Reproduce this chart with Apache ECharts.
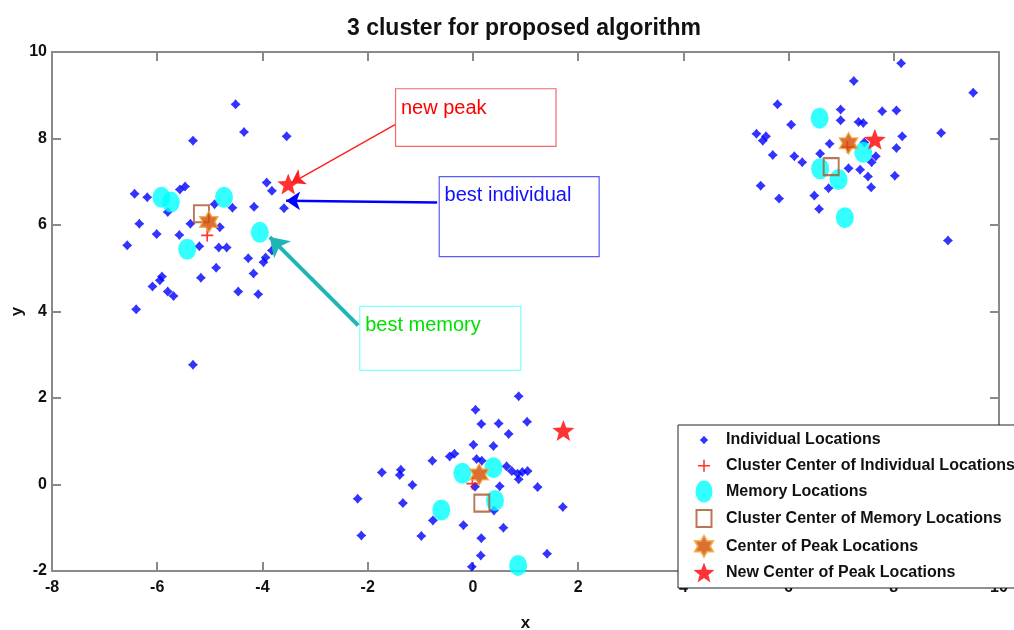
<!DOCTYPE html>
<html>
<head>
<meta charset="utf-8">
<script src="https://cdn.jsdelivr.net/npm/echarts@6/dist/echarts.min.js"></script>
<style>
  html, body { margin: 0; padding: 0; background: #fff; }
  #chart { width: 1014px; height: 630px; }
</style>
</head>
<body>
<div id="chart"></div>
<script>
// ---- data ----
const chartTitle = '3 cluster for proposed algorithm';
const xRange = [-8, 10];
const yRange = [-2, 10];
const tickStep = 2;

const seriesNames = [
  'Individual Locations',
  'Cluster Center of Individual Locations',
  'Memory Locations',
  'Cluster Center of Memory Locations',
  'Center of Peak Locations',
  'New Center of Peak Locations'
];

const individualPts = [
  // upper-left cluster
  [-4.51, 8.79], [-4.35, 8.15], [-5.32, 7.95], [-3.54, 8.05], [-6.43, 6.72], [-6.19, 6.64],
  [-5.57, 6.82], [-5.47, 6.89], [-3.92, 6.98], [-3.82, 6.79], [-5.80, 6.30], [-4.91, 6.48],
  [-4.57, 6.40], [-4.16, 6.42], [-3.59, 6.39], [-6.34, 6.03], [-5.37, 6.03], [-4.81, 5.95],
  [-6.01, 5.79], [-5.58, 5.77], [-6.57, 5.53], [-5.20, 5.51], [-4.83, 5.48], [-4.68, 5.48],
  [-3.82, 5.41], [-4.27, 5.23], [-3.94, 5.25], [-3.98, 5.14], [-4.88, 5.01], [-4.17, 4.88],
  [-5.91, 4.81], [-5.95, 4.72], [-6.09, 4.58], [-5.17, 4.78], [-5.80, 4.46], [-5.69, 4.36],
  [-4.46, 4.46], [-4.08, 4.40], [-6.40, 4.05], [-5.32, 2.77],
  // lower-middle cluster
  [0.87, 2.04], [0.05, 1.73], [0.16, 1.40], [0.49, 1.41], [1.03, 1.45], [0.68, 1.17],
  [0.01, 0.92], [0.39, 0.89], [-0.77, 0.55], [-0.44, 0.65], [-0.35, 0.71], [0.07, 0.59],
  [0.17, 0.55], [0.64, 0.42], [0.74, 0.31], [0.85, 0.25], [0.94, 0.29], [1.04, 0.31],
  [0.87, 0.12], [-1.73, 0.28], [-1.37, 0.34], [-1.39, 0.22], [-1.15, -0.01], [0.51, -0.04],
  [1.23, -0.06], [0.04, -0.05], [-2.19, -0.33], [-1.33, -0.43], [1.71, -0.52], [0.40, -0.60],
  [-0.76, -0.83], [-0.18, -0.94], [0.58, -1.00], [-2.12, -1.18], [-0.98, -1.19], [0.16, -1.24],
  [0.15, -1.64], [1.41, -1.60], [-0.02, -1.90],
  // upper-right cluster
  [8.14, 9.74], [7.24, 9.33], [9.51, 9.06], [5.79, 8.79], [6.99, 8.67], [7.78, 8.63],
  [8.05, 8.65], [6.05, 8.32], [6.99, 8.42], [7.33, 8.38], [7.42, 8.36], [5.39, 8.11],
  [5.57, 8.05], [5.51, 7.95], [6.78, 7.88], [7.44, 7.91], [8.16, 8.05], [8.90, 8.13],
  [8.05, 7.78], [5.70, 7.62], [6.11, 7.59], [6.26, 7.45], [6.60, 7.65], [7.66, 7.59],
  [7.58, 7.45], [7.14, 7.31], [7.36, 7.28], [7.51, 7.12], [8.02, 7.14], [7.57, 6.87],
  [6.76, 6.85], [5.47, 6.91], [5.82, 6.61], [6.49, 6.68], [6.58, 6.37], [9.03, 5.64]
];
const clusterCenters = [[-5.05, 5.76], [-0.01, 0.02], [7.12, 7.80]];
const memoryPts = [
  [-5.92, 6.64], [-5.74, 6.53], [-4.73, 6.64], [-5.43, 5.44], [-4.05, 5.83],
  [-0.20, 0.26], [0.39, 0.39], [0.42, -0.37], [-0.60, -0.59], [0.86, -1.87],
  [6.59, 8.47], [7.42, 7.68], [6.60, 7.30], [6.95, 7.05], [7.07, 6.17]
];
const memoryCenters = [[-5.16, 6.26], [0.17, -0.43], [6.81, 7.35]];
const peakCenters = [[-5.02, 6.07], [0.12, 0.23], [7.14, 7.89]];
const newPeaks = [[-3.51, 6.95], [1.72, 1.25], [7.64, 7.98]];

// annotation notes: label text, box corners and arrow (from -> to), in data units
const noteTexts = ['new peak', 'best individual', 'best memory'];
const noteBoxes = [
  [[-1.47, 9.15], [1.58, 7.82]],
  [[-0.64, 7.12], [2.40, 5.27]],
  [[-2.15, 4.12], [0.91, 2.64]]
];
const noteArrows = [
  [[-1.48, 8.32], [-3.45, 6.97]],
  [[-0.68, 6.52], [-3.55, 6.56]],
  [[-2.18, 3.68], [-3.86, 5.72]]
];

// ---- styles ----
const FONT = '"Liberation Sans", Arial, Helvetica, sans-serif';
const AXIS_COLOR = '#8a8a8a';
const TEXT_COLOR = '#111';

// marker shapes
const SYM_INDIV = 'path://M0,-10 L4.6,-4.6 L10,0 L4.6,4.6 L0,10 L-4.6,4.6 L-10,0 L-4.6,-4.6 Z';
const SYM_CROSS = 'path://M-0.8,-6 L0.8,-6 L0.8,-0.8 L6,-0.8 L6,0.8 L0.8,0.8 L0.8,6 L-0.8,6 L-0.8,0.8 L-6,0.8 L-6,-0.8 L-0.8,-0.8 Z';
const SYM_HEX = 'path://M100,0 L128.9,50 L186.6,50 L157.7,100 L186.6,150 L128.9,150 L100,200 L71.1,150 L13.4,150 L42.3,100 L13.4,50 L71.1,50 Z';
const SYM_STAR = 'path://M100,0 L124.7,66 L195.1,69.1 L139.9,113 L158.8,180.9 L100,142 L41.2,180.9 L60.1,113 L4.9,69.1 L75.3,66 Z';

// legend icons share one 24x22 frame so each glyph keeps its own size
const FRAME = 'M0,0 M24,22 ';
const LEG_ICONS = [
  'path://' + FRAME + 'M12,6.8 L14,9 L16.2,11 L14,13 L12,15.2 L10,13 L7.8,11 L10,9 Z',
  'path://' + FRAME + 'M11.2,5 L12.8,5 L12.8,10.2 L18,10.2 L18,11.8 L12.8,11.8 L12.8,17 L11.2,17 L11.2,11.8 L6,11.8 L6,10.2 L11.2,10.2 Z',
  'path://' + FRAME + 'M3.5,11 A8.5,11 0 1,0 20.5,11 A8.5,11 0 1,0 3.5,11 Z',
  'path://' + FRAME + 'M4.5,2.5 L19.5,2.5 L19.5,19.5 L4.5,19.5 Z',
  'path://' + FRAME + 'M12,0.5 L15.03,5.75 L21.09,5.75 L18.06,11 L21.09,16.25 L15.03,16.25 L12,21.5 L8.97,16.25 L2.91,16.25 L5.94,11 L2.91,5.75 L8.97,5.75 Z',
  'path://' + FRAME + 'M12,0.5 L14.72,7.76 L22.46,8.1 L16.39,12.93 L18.47,20.4 L12,16.12 L5.53,20.4 L7.61,12.93 L1.54,8.1 L9.28,7.76 Z'
];

const noteStyles = [
  { line: '#ff2020', width: 1.5, head: 13, box: '#f06a6a', text: '#ff0000' },
  { line: '#0000ff', width: 2.5, head: 14, box: '#5a5aff', text: '#1010ff' },
  { line: '#1fb5b5', width: 4, head: 18, box: '#80ffff', text: '#00e000' }
];

const chart = echarts.init(document.getElementById('chart'), null, { renderer: 'canvas' });

function axisBase(extra) {
  return Object.assign({
    type: 'value',
    interval: tickStep,
    splitLine: { show: false },
    axisLine: { show: true, onZero: false, lineStyle: { color: AXIS_COLOR, width: 2 } },
    axisTick: { show: true, inside: true, length: 9, lineStyle: { color: AXIS_COLOR, width: 2 } },
    axisLabel: { show: false }
  }, extra);
}

const tickLabel = { show: true, color: TEXT_COLOR, fontFamily: FONT, fontWeight: 'bold', fontSize: 16 };

const dataSeries = [
  { data: individualPts, symbol: SYM_INDIV, symbolSize: 10,
    itemStyle: { color: '#0000ff' } },
  { data: clusterCenters, symbol: SYM_CROSS, symbolSize: 12,
    itemStyle: { color: '#ff0000' } },
  { data: memoryPts, symbol: 'circle', symbolSize: [18, 21],
    itemStyle: { color: '#00ffff' } },
  { data: memoryCenters, symbol: 'rect', symbolSize: [15, 17],
    itemStyle: { color: 'rgba(0,0,0,0)', borderColor: '#a8552a', borderWidth: 2 } },
  { data: peakCenters, symbol: SYM_HEX, symbolSize: [18, 21],
    itemStyle: { color: '#d34b00', borderColor: '#f2a43a', borderWidth: 1.5 } },
  { data: newPeaks, symbol: SYM_STAR, symbolSize: [22, 21],
    itemStyle: { color: '#ff0000' } }
].map((s, i) => Object.assign({
  type: 'scatter',
  name: seriesNames[i],
  xAxisIndex: 0,
  yAxisIndex: 0,
  symbolKeepAspect: false,
  silent: true,
  animation: false
}, s));

const noteSeries = noteTexts.map((txt, i) => ({
  type: 'scatter',
  name: 'note-' + i,
  data: [],
  xAxisIndex: 0,
  yAxisIndex: 0,
  silent: true,
  animation: false,
  z: 5,
  markArea: {
    silent: true,
    itemStyle: { color: 'rgba(0,0,0,0)', borderColor: noteStyles[i].box, borderWidth: 1.2 },
    label: {
      show: true,
      position: 'insideTopLeft',
      distance: 6,
      padding: [4, 0, 0, 0],
      color: noteStyles[i].text,
      fontFamily: FONT,
      fontSize: 20,
      lineHeight: 20
    },
    data: [[
      { name: txt, coord: noteBoxes[i][0] },
      { coord: noteBoxes[i][1] }
    ]]
  },
  markLine: {
    silent: true,
    symbol: ['none', 'arrow'],
    symbolSize: noteStyles[i].head,
    lineStyle: { color: noteStyles[i].line, width: noteStyles[i].width, type: 'solid' },
    itemStyle: { color: noteStyles[i].line },
    label: { show: false },
    data: [[
      { coord: noteArrows[i][0] },
      { coord: noteArrows[i][1] }
    ]]
  }
}));

chart.setOption({
  backgroundColor: '#fff',
  animation: false,
  title: {
    text: chartTitle,
    left: 342,
    top: 12,
    textStyle: { fontFamily: FONT, fontWeight: 'bold', fontSize: 23, color: TEXT_COLOR }
  },
  grid: { left: 52, right: 15, top: 52, bottom: 59, containLabel: false, outerBoundsMode: 'none' },
  xAxis: [
    axisBase({
      position: 'bottom', min: xRange[0], max: xRange[1],
      name: 'x', nameLocation: 'middle', nameGap: 44, nameMoveOverlap: false,
      nameTextStyle: { fontFamily: FONT, fontWeight: 'bold', fontSize: 17, color: TEXT_COLOR },
      axisLabel: Object.assign({ margin: 9 }, tickLabel)
    }),
    axisBase({ position: 'top', min: xRange[0], max: xRange[1] })
  ],
  yAxis: [
    axisBase({
      position: 'left', min: yRange[0], max: yRange[1],
      name: 'y', nameLocation: 'middle', nameGap: 26, nameRotate: 90, nameMoveOverlap: false,
      nameTextStyle: { fontFamily: FONT, fontWeight: 'bold', fontSize: 17, color: TEXT_COLOR },
      axisLabel: Object.assign({ margin: 5 }, tickLabel)
    }),
    axisBase({ position: 'right', min: yRange[0], max: yRange[1] })
  ],
  legend: {
    orient: 'vertical',
    left: 678,
    top: 425,
    padding: [4, 10, 4, 13],
    itemWidth: 24,
    itemHeight: 22,
    itemGap: 3.8,
    selectedMode: false,
    backgroundColor: '#fff',
    borderColor: '#222',
    borderWidth: 1,
    borderRadius: 0,
    z: 10,
    textStyle: {
      fontFamily: FONT, fontWeight: 'bold', fontSize: 16, color: TEXT_COLOR,
      padding: [0, 0, 0, 5]
    },
    data: seriesNames.map((n, i) => ({ name: n, icon: LEG_ICONS[i] }))
  },
  series: dataSeries.concat(noteSeries)
});
</script>
</body>
</html>
